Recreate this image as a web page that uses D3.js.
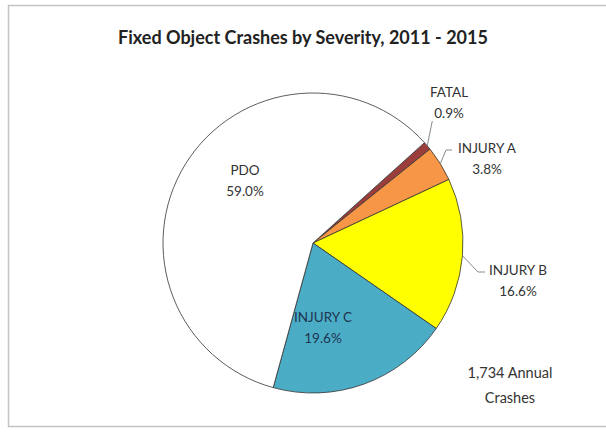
<!DOCTYPE html>
<html>
<head>
<meta charset="utf-8">
<script src="https://cdn.jsdelivr.net/npm/d3@7"></script>
<style>
  html, body { margin: 0; padding: 0; background: #fff; }
  svg { display: block; }
  text { font-family: Lato, "Open Sans", sans-serif; }
</style>
</head>
<body>
<svg id="chart" width="606" height="434"></svg>
<script>
// Severity categories, in drawing order (clockwise)
const categories = ["FATAL", "INJURY A", "INJURY B", "INJURY C", "PDO"];
// Share of crashes, percent
const shares = [0.9, 3.8, 16.6, 19.6, 59.0];
const sliceColors = ["#9B3D3A", "#F79646", "#FFFF00", "#4BACC6", "#FFFFFF"];
const title = "Fixed Object Crashes by Severity, 2011 - 2015";
const annualNote = ["1,734 Annual", "Crashes"];

const svg = d3.select("#chart");
const W = 606;

// chart frame
svg.append("rect")
  .attr("x", 8.5).attr("y", 5.5)
  .attr("width", W + 10).attr("height", 421)
  .attr("fill", "#fff")
  .attr("stroke", "#c4c4c4").attr("stroke-width", 1.5);

svg.append("text")
  .attr("x", 303).attr("y", 44)
  .attr("text-anchor", "middle")
  .attr("font-size", 18).attr("font-weight", "bold")
  .attr("fill", "#222")
  .text(title);

const cx = 313, cy = 243, R = 150;
const data = categories.map((c, i) => ({ name: c, value: shares[i], color: sliceColors[i] }));

const start = 48 * Math.PI / 180;
const pie = d3.pie()
  .sort(null)
  .value(d => d.value)
  .startAngle(start)
  .endAngle(start + 2 * Math.PI);

const arc = d3.arc().innerRadius(0).outerRadius(R);
const arcs = pie(data);

const g = svg.append("g").attr("transform", `translate(${cx},${cy})`);
g.selectAll("path")
  .data(arcs)
  .join("path")
  .attr("d", arc)
  .attr("fill", d => d.data.color)
  .attr("stroke", "#333")
  .attr("stroke-width", 0.8);

// label anchor per slice (first-line baseline)
const labelPos = {
  "FATAL":    { x: 449, y: 97 },
  "INJURY A": { x: 487, y: 153 },
  "INJURY B": { x: 518, y: 275 },
  "INJURY C": { x: 323, y: 322 },
  "PDO":      { x: 245, y: 175 }
};

const fmt = d3.format(".1f");
arcs.forEach(a => {
  const p = labelPos[a.data.name];
  const t = svg.append("text")
    .attr("text-anchor", "middle")
    .attr("font-size", 13.5)
    .attr("fill", a.data.name === "INJURY C" ? "#1f3550" : "#333");
  t.append("tspan").attr("x", p.x).attr("y", p.y).text(a.data.name);
  t.append("tspan").attr("x", p.x).attr("y", p.y + 21).text(fmt(a.data.value) + "%");
});

// leader lines from slice edges to outside labels
const edge = (a) => {
  const m = (a.startAngle + a.endAngle) / 2;
  return [cx + R * Math.sin(m), cy - R * Math.cos(m)];
};
const leaders = {
  "FATAL":    (a) => { const e = edge(a); return [e, [e[0] + 5, 121]]; },
  "INJURY A": (a) => { const e = edge(a); return [e, [446, 150], [452, 150]]; },
  "INJURY B": (a) => { const e = edge(a); return [e, [478, 272], [485, 272]]; }
};
arcs.forEach(a => {
  const f = leaders[a.data.name];
  if (!f) return;
  svg.append("path")
    .attr("d", d3.line()(f(a)))
    .attr("fill", "none")
    .attr("stroke", "#8a8a8a")
    .attr("stroke-width", 1);
});

const note = svg.append("text")
  .attr("text-anchor", "middle")
  .attr("font-size", 14.5)
  .attr("fill", "#333");
note.append("tspan").attr("x", 510).attr("y", 378).text(annualNote[0]);
note.append("tspan").attr("x", 510).attr("y", 403).text(annualNote[1]);
</script>
</body>
</html>
